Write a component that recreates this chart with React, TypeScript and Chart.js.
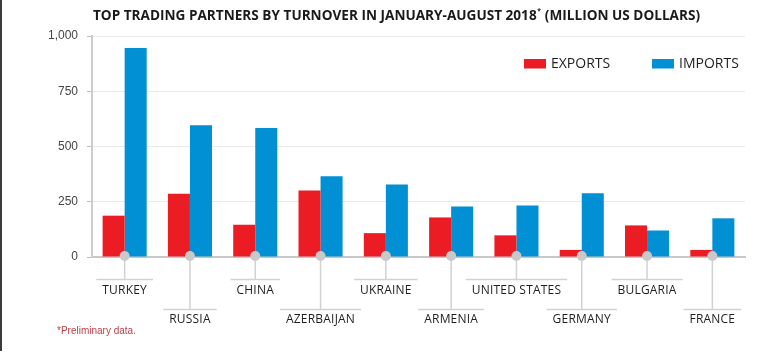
import React, { useEffect, useRef } from "react";
import { Chart, registerables } from "chart.js";

Chart.register(...registerables);

const categories = ["TURKEY", "RUSSIA", "CHINA", "AZERBAIJAN", "UKRAINE", "ARMENIA", "UNITED STATES", "GERMANY", "BULGARIA", "FRANCE"];
const exportsValues = [187, 286, 146, 301, 108, 179, 98, 32, 143, 32];
const importsValues = [946, 596, 584, 365, 328, 229, 233, 288, 120, 175];
const seriesNames = ["EXPORTS", "IMPORTS"];
const yMax = 1000;
const yStep = 250;
const titleMain = "TOP TRADING PARTNERS BY TURNOVER IN JANUARY-AUGUST 2018";
const titleSup = "*";
const titleRest = " (MILLION US DOLLARS)";
const footnote = "*Preliminary data.";

const RED = "#ec1c24";
const BLUE = "#0090d3";

const decorPlugin = {
  id: "decor",
  afterDatasetsDraw(chart: any) {
    const ctx = chart.ctx as CanvasRenderingContext2D;
    const xs = chart.scales.x;
    const area = chart.chartArea;
    ctx.save();
    // left frame edge
    ctx.fillStyle = "#3c3c3c";
    ctx.fillRect(0, 0, 2, 351);

    // title
    ctx.fillStyle = "#1a1a1a";
    ctx.textBaseline = "middle";
    ctx.textAlign = "left";
    const tf = "bold 14px 'Open Sans'";
    const sf = "bold 7px 'Open Sans'";
    ctx.font = tf;
    const w1 = ctx.measureText(titleMain).width;
    const w3 = ctx.measureText(titleRest).width;
    ctx.font = sf;
    const w2 = ctx.measureText(titleSup).width + 1;
    const target = 607;
    const k = target / (w1 + w2 + w3);
    ctx.save();
    ctx.translate(93, 16);
    ctx.scale(k, 1);
    ctx.font = tf;
    ctx.fillText(titleMain, 0, 0);
    ctx.font = sf;
    ctx.fillText(titleSup, w1 + 0.5, -5);
    ctx.font = tf;
    ctx.fillText(titleRest, w1 + w2, 0);
    ctx.restore();

    // legend
    ctx.font = "14px 'Open Sans'";
    ctx.fillStyle = RED;
    ctx.fillRect(524, 59, 22, 9.5);
    ctx.fillStyle = BLUE;
    ctx.fillRect(652, 59, 22, 9.5);
    ctx.fillStyle = "#1e1e1e";
    ctx.fillText(seriesNames[0], 551, 64);
    ctx.fillText(seriesNames[1], 679, 64);

    // category connectors + labels
    ctx.font = "500 12px 'Open Sans'";
    (ctx as any).letterSpacing = "0.2px";
    ctx.textAlign = "center";
    const base = area.bottom - 1;
    categories.forEach((c, i) => {
      const x = xs.getPixelForValue(i);
      const upper = i % 2 === 0;
      const lineY = upper ? 279.5 : 309.5;
      const textY = upper ? 291 : 320;
      const tw = ctx.measureText(c).width;
      ctx.strokeStyle = "#d2d2d2";
      ctx.lineWidth = 1.5;
      ctx.beginPath();
      ctx.moveTo(x, base);
      ctx.lineTo(x, lineY);
      ctx.stroke();
      ctx.beginPath();
      ctx.moveTo(x - tw / 2 - 6, lineY);
      ctx.lineTo(x + tw / 2 + 6, lineY);
      ctx.stroke();
      ctx.fillStyle = "#c9c9c9";
      ctx.beginPath();
      ctx.arc(x, base, 5, 0, Math.PI * 2);
      ctx.fill();
      ctx.fillStyle = "#1e1e1e";
      ctx.fillText(c, x, textY);
    });
    (ctx as any).letterSpacing = "0px";

    // footnote
    ctx.textAlign = "left";
    ctx.font = "10px 'Liberation Sans'";
    ctx.fillStyle = "#c0404c";
    ctx.fillText(footnote, 57, 331);
    ctx.restore();
  },
};

export default function App() {
  const ref = useRef<HTMLCanvasElement>(null);
  useEffect(() => {
    document.body.style.margin = "0";
    const chart = new Chart(ref.current as HTMLCanvasElement, {
      type: "bar",
      data: {
        labels: categories,
        datasets: [
          { label: seriesNames[0], data: exportsValues, backgroundColor: RED, barPercentage: 1, categoryPercentage: 0.675 },
          { label: seriesNames[1], data: importsValues, backgroundColor: BLUE, barPercentage: 1, categoryPercentage: 0.675 },
        ],
      },
      options: {
        animation: false,
        responsive: true,
        maintainAspectRatio: false,
        layout: { padding: { top: 36, right: 39, bottom: 100, left: 0 } },
        plugins: { legend: { display: false }, title: { display: false }, tooltip: { enabled: false } },
        scales: {
          x: {
            grid: { display: false, drawTicks: false },
            ticks: { display: false },
            border: { color: "#c8c8c8", width: 2 },
            afterFit: (s: any) => { s.height = 0; },
          },
          y: {
            min: 0,
            max: yMax,
            ticks: {
              stepSize: yStep,
              padding: 9,
              color: "#444",
              font: { family: "'Liberation Sans'", size: 12 },
              callback: (v: any) => Number(v).toLocaleString("en-US"),
            },
            grid: { color: "#e9e9e9", tickColor: "#bdbdbd", tickLength: 5, lineWidth: 1 },
            border: { color: "#cccccc", width: 2 },
            afterFit: (s: any) => { s.width = 92; },
          },
        },
      },
      plugins: [decorPlugin],
    });
    return () => chart.destroy();
  }, []);
  return (
    <div style={{ position: "relative", width: 784, height: 357 }}>
      <canvas ref={ref} />
    </div>
  );
}
